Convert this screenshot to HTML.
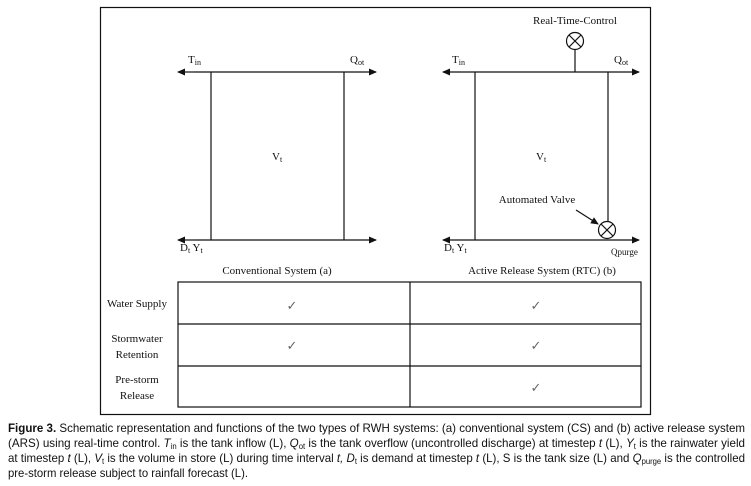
<!DOCTYPE html>
<html><head><meta charset="utf-8"><style>
html,body{margin:0;padding:0;background:#fff;}
svg{display:block;}
.s{font-family:"Liberation Serif",serif;fill:#111;}
.c{font-family:"Liberation Sans",sans-serif;fill:#111;font-size:12px;}
</style></head><body>
<svg width="751" height="486" viewBox="0 0 751 486" xmlns="http://www.w3.org/2000/svg">
<defs><marker id="a" markerWidth="8" markerHeight="8" refX="7" refY="4" orient="auto" markerUnits="userSpaceOnUse"><path d="M0,0.5 L8,4 L0,7.5 Z" fill="#111"/></marker></defs>
<rect x="100.5" y="7.5" width="550" height="407" fill="none" stroke="#111" stroke-width="1.2"/>
<g stroke="#111" stroke-width="1.2" fill="none">
<!-- left -->
<line x1="194" y1="72" x2="178" y2="72" marker-end="url(#a)"/>
<line x1="194" y1="72" x2="376" y2="72" marker-end="url(#a)"/>
<line x1="194" y1="240" x2="178" y2="240" marker-end="url(#a)"/>
<line x1="194" y1="240" x2="376" y2="240" marker-end="url(#a)"/>
<line x1="211" y1="72" x2="211" y2="240"/>
<line x1="344" y1="72" x2="344" y2="240"/>
<!-- right -->
<line x1="460" y1="72" x2="443" y2="72" marker-end="url(#a)"/>
<line x1="460" y1="72" x2="639" y2="72" marker-end="url(#a)"/>
<line x1="460" y1="240" x2="443" y2="240" marker-end="url(#a)"/>
<line x1="460" y1="240" x2="639" y2="240" marker-end="url(#a)"/>
<line x1="475" y1="72" x2="475" y2="240"/>
<line x1="608" y1="72" x2="608" y2="221"/>
<line x1="575" y1="50" x2="575" y2="72"/>
<circle cx="575" cy="41" r="8.5"/>
<line x1="569" y1="35" x2="581" y2="47"/><line x1="581" y1="35" x2="569" y2="47"/>
<circle cx="607" cy="230" r="8.5"/>
<line x1="601" y1="224" x2="613" y2="236"/><line x1="613" y1="224" x2="601" y2="236"/>
<line x1="576" y1="210" x2="598" y2="224" marker-end="url(#a)"/>
</g>
<g class="s" font-size="11">
<text x="452" y="63">T<tspan font-size="8" dy="2">in</tspan></text>
<text x="188" y="63">T<tspan font-size="8" dy="2">in</tspan></text>
<text x="350" y="63">Q<tspan font-size="8" dy="2">ot</tspan></text>
<text x="614" y="63">Q<tspan font-size="8" dy="2">ot</tspan></text>
<text x="272" y="160">V<tspan font-size="8" dy="2">t</tspan></text>
<text x="536" y="160">V<tspan font-size="8" dy="2">t</tspan></text>
<text x="180" y="251">D<tspan font-size="8" dy="2">t</tspan><tspan dy="-2"> Y</tspan><tspan font-size="8" dy="2">t</tspan></text>
<text x="444" y="251">D<tspan font-size="8" dy="2">t</tspan><tspan dy="-2"> Y</tspan><tspan font-size="8" dy="2">t</tspan></text>
<text x="611" y="255" font-size="9">Qpurge</text>
<text x="575" y="24" text-anchor="middle">Real-Time-Control</text>
<text x="537" y="203" text-anchor="middle">Automated Valve</text>
<text x="277" y="274" text-anchor="middle">Conventional System (a)</text>
<text x="542" y="274" text-anchor="middle">Active Release System (RTC) (b)</text>
</g>
<g stroke="#111" stroke-width="1.2" fill="none">
<rect x="178" y="282" width="463" height="125"/>
<line x1="178" y1="324" x2="641" y2="324"/>
<line x1="178" y1="366" x2="641" y2="366"/>
<line x1="410" y1="282" x2="410" y2="407"/>
</g>
<g class="s" font-size="11" text-anchor="middle">
<text x="137" y="307">Water Supply</text>
<text x="137" y="342">Stormwater</text>
<text x="137" y="358">Retention</text>
<text x="137" y="383">Pre-storm</text>
<text x="137" y="399">Release</text>
</g>
<g class="s" font-size="13" fill="#555" text-anchor="middle">
<text x="292" y="310" fill="#666">✓</text>
<text x="536" y="310" fill="#666">✓</text>
<text x="292" y="350" fill="#666">✓</text>
<text x="536" y="350" fill="#666">✓</text>
<text x="536" y="392" fill="#666">✓</text>
</g>
<g class="c">
<text x="8" y="432" textLength="737" lengthAdjust="spacingAndGlyphs"><tspan font-weight="bold">Figure 3.</tspan> Schematic representation and functions of the two types of RWH systems: (a) conventional system (CS) and (b) active release system</text>
<text x="8" y="447" textLength="737" lengthAdjust="spacingAndGlyphs">(ARS) using real-time control. <tspan font-style="italic">T</tspan><tspan font-size="8" dy="2">in</tspan><tspan dy="-2"> is the tank inflow (L), </tspan><tspan font-style="italic">Q</tspan><tspan font-size="8" dy="2">ot</tspan><tspan dy="-2"> is the tank overflow (uncontrolled discharge) at timestep </tspan><tspan font-style="italic">t</tspan> (L), <tspan font-style="italic">Y</tspan><tspan font-size="8" dy="2">t</tspan><tspan dy="-2"> is the rainwater yield</tspan></text>
<text x="8" y="462" textLength="737" lengthAdjust="spacingAndGlyphs">at timestep <tspan font-style="italic">t</tspan> (L), <tspan font-style="italic">V</tspan><tspan font-size="8" dy="2">t</tspan><tspan dy="-2"> is the volume in store (L) during time interval </tspan><tspan font-style="italic">t, D</tspan><tspan font-size="8" dy="2">t</tspan><tspan dy="-2"> is demand at timestep </tspan><tspan font-style="italic">t</tspan> (L), S is the tank size (L) and <tspan font-style="italic">Q</tspan><tspan font-size="8" dy="2">purge</tspan><tspan dy="-2"> is the controlled</tspan></text>
<text x="8" y="477" textLength="240" lengthAdjust="spacingAndGlyphs">pre-storm release subject to rainfall forecast (L).</text>
</g>
</svg>
</body></html>
